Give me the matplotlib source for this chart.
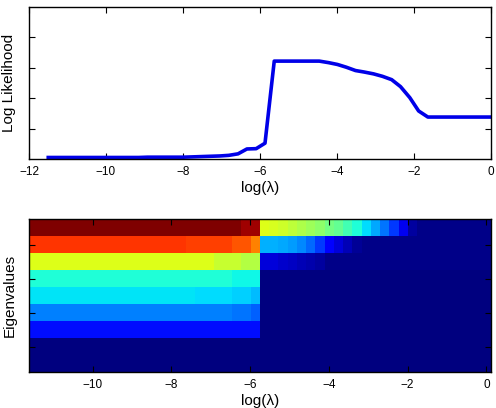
import numpy as np
import matplotlib
matplotlib.use("Agg")
import matplotlib.pyplot as plt

plt.rcParams['font.family'] = ['Liberation Sans', 'DejaVu Sans']

# regularisation path: log(lambda) grid, 50 points
log_lam = [-11.50, -11.27, -11.03, -10.80, -10.56, -10.33, -10.09, -9.86, -9.62, -9.39,
           -9.15, -8.92, -8.68, -8.45, -8.21, -7.98, -7.74, -7.51, -7.28, -7.04,
           -6.81, -6.57, -6.34, -6.10, -5.87, -5.63, -5.40, -5.16, -4.93, -4.69,
           -4.46, -4.22, -3.99, -3.76, -3.52, -3.29, -3.05, -2.82, -2.58, -2.35,
           -2.11, -1.88, -1.64, -1.41, -1.17, -0.94, -0.70, -0.47, -0.23, 0.00]

loglik = ([0.05] * 11 + [0.06] * 5 +
          [0.07, 0.08, 0.09, 0.10, 0.12, 0.17, 0.33, 0.34, 0.52] +
          [3.22] * 6 +
          [3.17, 3.11, 3.02, 2.91, 2.86, 2.80, 2.72, 2.61, 2.38, 2.02, 1.58] +
          [1.38] * 8)

# eigenvalue spectrum (normalised), one row per eigenvalue
ev0 = [1.0] * 23 + [0.97] * 2 + [0.62, 0.61, 0.60, 0.58, 0.56, 0.54, 0.52, 0.49, 0.47,
                                 0.43, 0.39, 0.34, 0.29, 0.24, 0.18, 0.10, 0.03] + [0.01] * 8
ev1 = [0.855] * 17 + [0.84] * 5 + [0.82] * 2 + [0.77] + \
      [0.30, 0.30, 0.29, 0.28, 0.26, 0.23, 0.18, 0.12, 0.08, 0.05, 0.02] + [0.01] * 14
ev2 = [0.62] * 20 + [0.59] * 3 + [0.57] * 2 + [0.08, 0.08, 0.07, 0.06, 0.05, 0.04, 0.03] + [0.01] * 18
ev3 = [0.39] * 22 + [0.37] * 3 + [0.0] * 25
ev4 = [0.35] * 18 + [0.34] * 4 + [0.33] * 2 + [0.31] + [0.0] * 25
ev5 = [0.25] * 22 + [0.24] * 2 + [0.22] + [0.0] * 25
ev6 = [0.14] * 25 + [0.0] * 25
ev7 = [0.0] * 50
ev8 = [0.0] * 50

fig = plt.figure(figsize=(4.96, 4.08), dpi=100)

ax1 = fig.add_axes([29 / 496, 1 - 159 / 408, 462 / 496, 152 / 408])
ax1.plot(log_lam, loglik, color='#0000e8', lw=2.6)
ax1.set_xlim(-12, 0)
ax1.set_ylim(0, 5)
ax1.set_yticks([1, 2, 3, 4])
ax1.set_yticklabels([])
ax1.set_xlabel('log(λ)', fontsize=11, labelpad=2)
ax1.set_ylabel('Log Likelihood', fontsize=11)

ax2 = fig.add_axes([29 / 496, 1 - 372 / 408, 462 / 496, 153 / 408])
eig = np.array([ev0, ev1, ev2, ev3, ev4, ev5, ev6, ev7, ev8])
step = (log_lam[-1] - log_lam[0]) / (len(log_lam) - 1)
ax2.imshow(eig, cmap='jet', vmin=0, vmax=1, aspect='auto', interpolation='nearest',
           extent=[log_lam[0] - step / 2, log_lam[-1] + step / 2, eig.shape[0] - 0.5, -0.5])
ax2.set_xticks([-10, -8, -6, -4, -2, 0])
ax2.set_yticks([1, 3, 5, 7])
ax2.set_yticklabels([])
ax2.set_xlabel('log(λ)', fontsize=11, labelpad=2)
ax2.set_ylabel('Eigenvalues', fontsize=11)

for ax in (ax1, ax2):
    ax.tick_params(direction='in', top=True, right=True, length=4, width=0.8, labelsize=8.5, pad=5)
    for s in ax.spines.values():
        s.set_linewidth(1.0)

fig.savefig('out.png', dpi=100)
